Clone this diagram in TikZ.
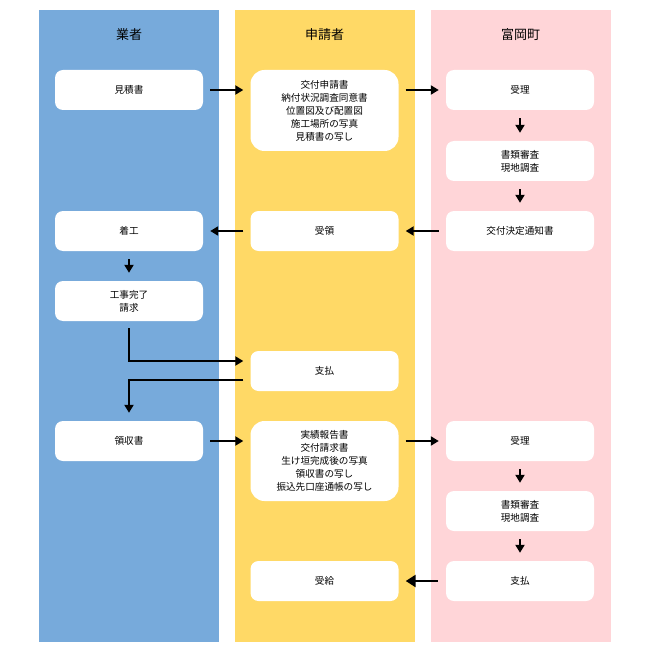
\documentclass[tikz,border=0pt]{standalone}
\usepackage{fontspec}
\setmainfont{Noto Sans CJK JP}
\usetikzlibrary{arrows.meta}
\definecolor{laneblue}{HTML}{77AADB}
\definecolor{laneyellow}{HTML}{FFD966}
\definecolor{lanepink}{HTML}{FFD5D8}
\tikzset{
  lane/.style={draw=none,minimum width=180pt,minimum height=632pt,inner sep=0pt},
  head/.style={font=\fontsize{13}{15}\selectfont},
  box/.style={fill=white,draw=none,rounded corners=8pt,minimum width=148pt,minimum height=40pt,align=center,inner sep=0pt,font=\fontsize{9.6}{13}\selectfont},
  arr/.style={line width=2.2pt,-{Triangle[length=8pt,width=9pt]}},
  bigarr/.style={line width=2.8pt,-{Triangle[length=10pt,width=12pt]}}
}
\begin{document}
\begin{tikzpicture}[x=1pt,y=-1pt]
\useasboundingbox (0,0) rectangle (650,652);
% lanes
\node[lane,fill=laneblue,anchor=north] (laneA) at (129,10) {};
\node[lane,fill=laneyellow,anchor=north] (laneB) at (324.5,10) {};
\node[lane,fill=lanepink,anchor=north] (laneC) at (520.5,10) {};
\node[head] (hA) at (129,35) {業者};
\node[head] (hB) at (324.5,35) {申請者};
\node[head] (hC) at (520.5,35) {富岡町};
% column A
\node[box] (a1) at (129,90) {見積書};
\node[box] (a2) at (129,231) {着工};
\node[box] (a3) at (129,301) {工事完了\\請求};
\node[box] (a4) at (129,441) {領収書};
% column B
\node[box,minimum height=81pt,rounded corners=14pt] (b1) at (324.5,110.5) {交付申請書\\納付状況調査同意書\\位置図及び配置図\\施工場所の写真\\見積書の写し};
\node[box] (b2) at (324.5,231) {受領};
\node[box] (b3) at (324.5,371) {支払};
\node[box,minimum height=80pt,rounded corners=14pt] (b4) at (324.5,461) {実績報告書\\交付請求書\\生け垣完成後の写真\\領収書の写し\\振込先口座通帳の写し};
\node[box] (b5) at (324.5,581) {受給};
% column C
\node[box] (c1) at (520,90) {受理};
\node[box] (c2) at (520,161) {書類審査\\現地調査};
\node[box] (c3) at (520,231) {交付決定通知書};
\node[box] (c4) at (520,441) {受理};
\node[box] (c5) at (520,511) {書類審査\\現地調査};
\node[box] (c6) at (520,581) {支払};
% arrows
\draw[arr] ([xshift=7pt]a1.east) -- ([xshift=-7pt]a1.east -| b1.west);
\draw[arr] ([xshift=7pt]b1.east |- c1.west) -- ([xshift=-7pt]c1.west);
\draw[arr] ([yshift=-8pt]c1.south) -- ([yshift=8pt]c2.north);
\draw[arr] ([yshift=-8pt]c2.south) -- ([yshift=8pt]c3.north);
\draw[arr] ([xshift=-7pt]c3.west) -- ([xshift=7pt]b2.east);
\draw[arr] ([xshift=-7pt]b2.west) -- ([xshift=7pt]a2.east);
\draw[arr] ([yshift=-8pt]a2.south) -- ([yshift=8pt]a3.north);
\draw[arr] ([yshift=-7pt]a3.south) |- ([xshift=-7pt,yshift=10pt]b3.west);
\draw[arr] ([xshift=-7pt,yshift=-9pt]b3.west) -| ([yshift=8pt]a4.north);
\draw[arr] ([xshift=7pt]a4.east) -- ([xshift=-7pt]a4.east -| b4.west);
\draw[arr] ([xshift=7pt]b4.east |- c4.west) -- ([xshift=-7pt]c4.west);
\draw[arr] ([yshift=-8pt]c4.south) -- ([yshift=8pt]c5.north);
\draw[arr] ([yshift=-8pt]c5.south) -- ([yshift=8pt]c6.north);
\draw[bigarr] ([xshift=-8pt]c6.west) -- ([xshift=7pt]b5.east);
\end{tikzpicture}
\end{document}
